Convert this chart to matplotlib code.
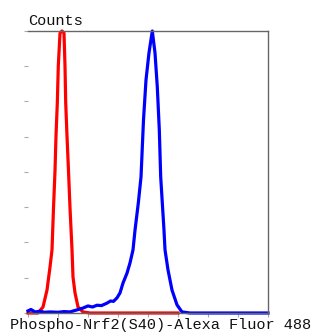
import matplotlib
matplotlib.use("Agg")
import matplotlib.pyplot as plt

# red histogram (control)
red_x = [0, 0.333, 0.5, 0.633, 0.733, 0.8, 0.85, 0.9, 0.933, 0.977, 1.01, 1.067, 1.133,
         1.2, 1.233, 1.257, 1.3, 1.35, 1.4, 1.467, 1.5, 1.567, 1.667, 1.833, 2.067, 5.0]
red_y = [0, 0, 0.17, 0.65, 1.30, 1.79, 2.98, 4.03, 5.02, 5.96, 7.01, 7.94, 8.0,
         7.94, 7.01, 5.96, 5.02, 4.03, 2.98, 1.79, 1.02, 0.57, 0.17, 0.03, 0, 0]

# blue histogram (stained)
blue_x = [0, 0.1, 0.233, 0.4, 0.55, 0.733, 1.0, 1.2, 1.4, 1.6, 1.833, 2.0, 2.15, 2.3, 2.45,
          2.633, 2.75, 2.85, 2.967, 3.067, 3.167, 3.3, 3.4, 3.5, 3.567, 3.677, 3.767,
          3.85, 3.933, 4.033, 4.143, 4.233, 4.31, 4.377, 4.423, 4.477, 4.533, 4.567,
          4.667, 4.8, 4.967, 5.133, 5.4, 8.0]
blue_y = [0.06, 0.1, 0.03, 0.05, 0.02, 0.03, 0.02, 0.04, 0.03, 0.08, 0.14, 0.2, 0.17, 0.22, 0.21,
          0.28, 0.34, 0.33, 0.43, 0.57, 0.85, 1.13, 1.42, 1.79, 2.35, 3.12, 3.86,
          5.48, 6.61, 7.38, 8.0, 7.38, 6.41, 5.19, 3.86, 3.12, 2.35, 1.79,
          1.22, 0.65, 0.23, 0.03, 0, 0]

fig = plt.figure(figsize=(3.15, 3.34), dpi=100)
ax = fig.add_axes([0.0889, 0.0629, 0.7619, 0.8443])

ax.plot(red_x, red_y, color="#ff0000", lw=2.3, clip_on=False)
ax.plot(blue_x, blue_y, color="#0000ff", lw=2.3, clip_on=False)

ax.set_xlim(0, 8)
ax.set_ylim(0, 8)
ax.set_xticks(range(9))
ax.set_yticks(range(9))
ax.set_xticklabels([])
ax.set_yticklabels([])
ax.tick_params(direction="out", length=3, width=0.8, color="#aaaaaa")

ax.spines["left"].set_visible(False)
for s in ["top", "right", "bottom"]:
    ax.spines[s].set_color("#666666")
    ax.spines[s].set_linewidth(1.0)

fig.text(0.089, 0.925, "Counts", family="Liberation Mono", fontsize=11, color="#111111",
         ha="left", va="baseline")
fig.text(0.51, 0.005, "Phospho-Nrf2(S40)-Alexa Fluor 488", family="Liberation Mono",
         fontsize=11, color="#111111", ha="center", va="bottom")

fig.savefig("out.png", dpi=100)
